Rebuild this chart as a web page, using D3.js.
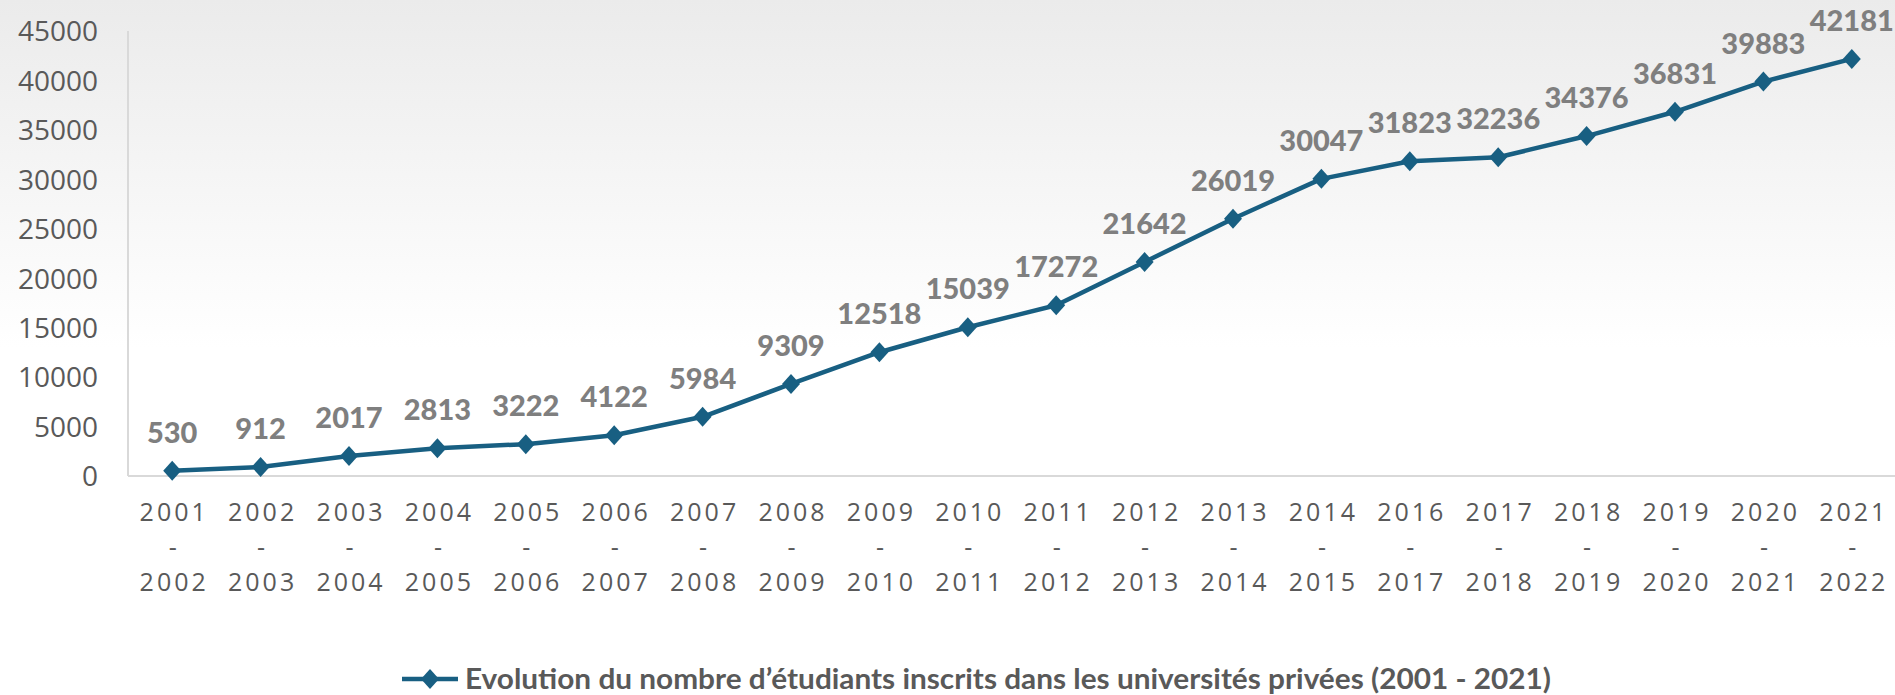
<!DOCTYPE html>
<html>
<head>
<meta charset="utf-8">
<script src="https://cdn.jsdelivr.net/npm/d3@7"></script>
<style>
  html, body { margin: 0; padding: 0; background: #fff; }
  svg { display: block; }
</style>
</head>
<body>
<div id="chart"></div>
<script>
const years = ['2001-2002', '2002-2003', '2003-2004', '2004-2005', '2005-2006', '2006-2007',
  '2007-2008', '2008-2009', '2009-2010', '2010-2011', '2011-2012', '2012-2013', '2013-2014',
  '2014-2015', '2016-2017', '2017-2018', '2018-2019', '2019-2020', '2020-2021', '2021-2022'];
const students = [530, 912, 2017, 2813, 3222, 4122, 5984, 9309, 12518, 15039, 17272, 21642,
  26019, 30047, 31823, 32236, 34376, 36831, 39883, 42181];
const yTicks = [0, 5000, 10000, 15000, 20000, 25000, 30000, 35000, 40000, 45000];
const legendLabel = 'Evolution du nombre d\u2019\u00e9tudiants inscrits dans les universit\u00e9s priv\u00e9es (2001 - 2021)';

const width = 1895;
const height = 695;
const lineColor = '#185f82';
const margin = {top: 31, left: 128, right: -1, bottom: 219};

const svg = d3.select('#chart').append('svg')
    .attr('width', width)
    .attr('height', height);

// soft grey wash fading to white
const grad = svg.append('defs').append('linearGradient')
    .attr('id', 'bg')
    .attr('x1', 0).attr('y1', 0).attr('x2', 0).attr('y2', 1);
grad.append('stop').attr('offset', '0%').attr('stop-color', '#ebebeb');
grad.append('stop').attr('offset', '50%').attr('stop-color', '#ffffff');
grad.append('stop').attr('offset', '100%').attr('stop-color', '#ffffff');

svg.append('rect')
    .attr('width', width)
    .attr('height', height)
    .attr('fill', 'url(#bg)');

const x = d3.scalePoint()
  .domain(years)
  .range([margin.left, width - margin.right])
  .padding(0.5);

const y = d3.scaleLinear()
  .domain([0, 45000])
  .range([height - margin.bottom, margin.top]);

// axes lines
svg.append('line')
    .attr('x1', margin.left).attr('x2', margin.left)
    .attr('y1', y(45000)).attr('y2', y(0))
    .attr('stroke', '#d9d9d9').attr('stroke-width', 2);
svg.append('line')
    .attr('x1', margin.left).attr('x2', width)
    .attr('y1', y(0)).attr('y2', y(0))
    .attr('stroke', '#d9d9d9').attr('stroke-width', 2);

const yAxis = svg.append('g')
    .attr('transform', `translate(${margin.left - 30}, 0)`)
    .call(d3.axisLeft(y).tickValues(yTicks).tickSize(0).tickPadding(0).tickFormat(d => d));
yAxis.select('.domain').remove();
yAxis.selectAll('text')
    .attr('fill', '#595959')
    .attr('font-family', '"Open Sans", sans-serif')
    .attr('font-size', 28)
    .attr('dy', '0.35em');

const xAxis = svg.append('g')
    .attr('transform', `translate(0, ${y(0)})`)
    .call(d3.axisBottom(x).tickSize(0).tickFormat(''));
xAxis.select('.domain').remove();
xAxis.selectAll('.tick').each(function (d) {
  const parts = d.split('-');
  const t = d3.select(this).append('text')
      .attr('fill', '#595959')
      .attr('font-family', '"Open Sans", sans-serif')
      .attr('font-size', 25)
      .attr('letter-spacing', 3)
      .attr('text-anchor', 'middle');
  [parts[0], '-', parts[1]].forEach(function (s, i) {
    t.append('tspan')
        .attr('x', 1.5)
        .attr('y', 45 + i * 35)
        .text(s);
  });
});

const line = d3.line()
  .x((d, i) => x(years[i]))
  .y(d => y(d));

svg.append('path')
    .datum(students)
    .attr('fill', 'none')
    .attr('stroke', lineColor)
    .attr('stroke-width', 4.5)
    .attr('stroke-linejoin', 'round')
    .attr('d', line);

const diamond = 'M0,-10L9,0L0,10L-9,0Z';

svg.selectAll('.pt')
  .data(students)
  .enter().append('path')
    .attr('class', 'pt')
    .attr('d', diamond)
    .attr('fill', lineColor)
    .attr('transform', (d, i) => `translate(${x(years[i])}, ${y(d)})`);

svg.selectAll('.lbl')
  .data(students)
  .enter().append('text')
    .attr('class', 'lbl')
    .attr('x', (d, i) => x(years[i]))
    .attr('y', d => y(d) - 28)
    .attr('text-anchor', 'middle')
    .attr('fill', '#7f7f7f')
    .attr('font-family', 'Lato, sans-serif')
    .attr('font-weight', 900)
    .attr('font-size', 29)
    .text(d => d);

// legend
const legend = svg.append('g').attr('transform', 'translate(402, 679)');
legend.append('line')
    .attr('x1', 0).attr('x2', 56)
    .attr('stroke', lineColor).attr('stroke-width', 4.5);
legend.append('path')
    .attr('d', diamond)
    .attr('fill', lineColor)
    .attr('transform', 'translate(28, 0)');
legend.append('text')
    .attr('x', 63)
    .attr('y', 10)
    .attr('fill', '#595959')
    .attr('font-family', 'Lato, sans-serif')
    .attr('font-weight', 'bold')
    .attr('font-size', 29)
    .attr('textLength', 1086)
    .attr('lengthAdjust', 'spacingAndGlyphs')
    .text(legendLabel);
</script>
</body>
</html>
